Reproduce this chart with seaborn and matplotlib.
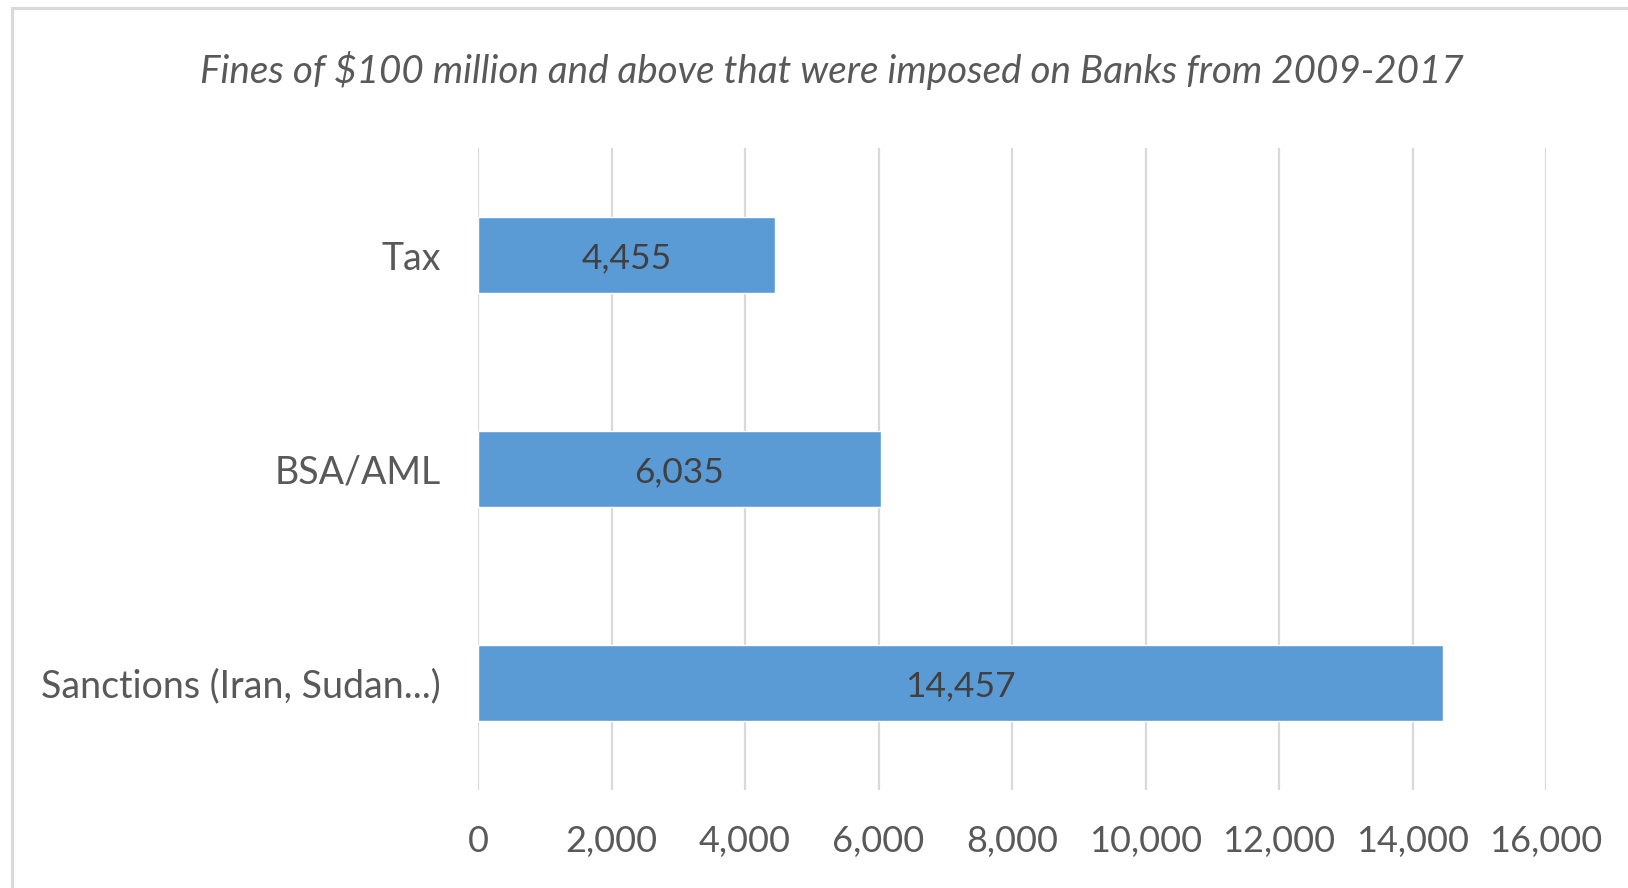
import matplotlib
matplotlib.use("Agg")
import matplotlib.pyplot as plt
import seaborn as sns
import pandas as pd
from matplotlib.patches import Rectangle
from matplotlib.ticker import FuncFormatter, MultipleLocator

categories = ["Tax", "BSA/AML", "Sanctions (Iran, Sudan...)"]
values = [4455, 6035, 14457]
title = "Fines of $100 million and above that were imposed on Banks from 2009-2017"

df = pd.DataFrame({"category": categories, "value": values})

sns.set_theme(style="white")
plt.rcParams["font.family"] = ["Lato", "DejaVu Sans"]

W, H = 1628, 888
fig = plt.figure(figsize=(W / 100, H / 100), dpi=100)
ax = fig.add_axes([478 / W, 1 - 790 / H, (1546 - 478) / W, (790 - 148) / H])

sns.barplot(data=df, x="value", y="category", orient="h", color="#5B9BD5",
            saturation=1, width=0.355, ax=ax, zorder=3)

ax.set_xlim(0, 16000)
ax.set_ylim(2.5, -0.5)
ax.xaxis.set_major_locator(MultipleLocator(2000))
ax.xaxis.set_major_formatter(FuncFormatter(lambda v, p: f"{int(v):,}"))
ax.grid(axis="x", color="#D9D9D9", linewidth=1.6, zorder=0)
ax.grid(axis="y", visible=False)
for s in ax.spines.values():
    s.set_visible(False)
ax.set_xlabel("")
ax.set_ylabel("")
ax.tick_params(axis="x", length=0, pad=25.5, labelsize=26, labelcolor="#595959")
ax.tick_params(axis="y", length=0, pad=27, labelsize=27, labelcolor="#595959")

for c in ax.containers:
    texts = ax.bar_label(c, labels=[f"{v:,}" for v in values], label_type="center",
                         fontsize=25.5, color="#404040")
    for t in texts:
        t.set_position((t.get_position()[0], t.get_position()[1] - 2))

fig.text(832 / W, 1 - 70 / H, title, ha="center", va="center",
         fontsize=27.8, style="italic", color="#595959")

fig.patches.append(Rectangle((12 / W, -0.1), 1.2, 1 - 8 / H + 0.1,
                             transform=fig.transFigure, fill=False,
                             edgecolor="#D9D9D9", linewidth=2.2))

fig.savefig("out.png", dpi=100, facecolor="white")
